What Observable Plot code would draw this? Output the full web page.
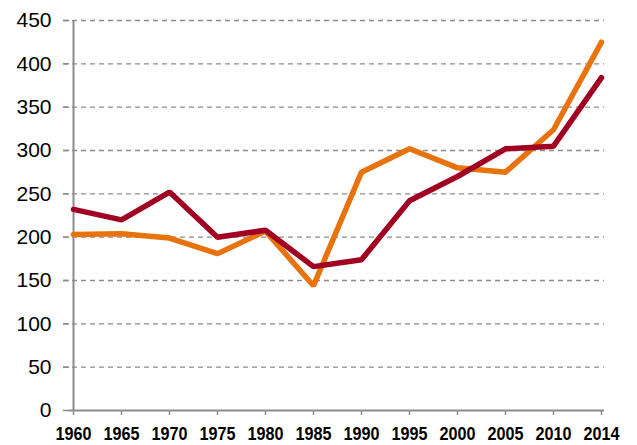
<!DOCTYPE html>
<html>
<head>
<meta charset="utf-8">
<script src="https://cdn.jsdelivr.net/npm/d3@7"></script>
<script src="https://cdn.jsdelivr.net/npm/@observablehq/plot@0.6"></script>
<style>
  html, body { margin: 0; padding: 0; background: #fff; }
  #chart svg { display: block; }
</style>
</head>
<body>
<div id="chart"></div>
<script>
const years = ["1960","1965","1970","1975","1980","1985","1990","1995","2000","2005","2010","2014"];
const orangeValues = [203, 204, 199, 181, 207, 144, 275, 302, 280, 275, 324, 425];
const redValues = [232, 220, 252, 200, 208, 166, 174, 242, 270, 302, 305, 384];
const yTicks = [0, 50, 100, 150, 200, 250, 300, 350, 400, 450];

const orange = years.map((y, i) => ({year: y, value: orangeValues[i]}));
const red = years.map((y, i) => ({year: y, value: redValues[i]}));

const chart = Plot.plot({
  width: 637,
  height: 445,
  marginLeft: 69,
  marginRight: 33,
  marginTop: 20,
  marginBottom: 35,
  style: {fontFamily: "'Liberation Sans', Arial, sans-serif", background: "#fff", color: "#000"},
  x: {type: "point", domain: years, padding: 0},
  y: {domain: [0, 450]},
  marks: [
    Plot.gridY(yTicks.filter(d => d > 0), {stroke: "#8c8c8c", strokeOpacity: 1, strokeWidth: 1.3, strokeDasharray: "5,4", insetLeft: -6}),
    Plot.axisY(yTicks, {tickSize: 6, tickPadding: 12, fontSize: 21, stroke: "#8c8c8c", strokeWidth: 1.5, label: null, fill: "#000", className: "yax"}),
    Plot.axisX({tickSize: 5, tickPadding: 11, fontSize: 19, fontWeight: "bold", stroke: "#8c8c8c", strokeWidth: 1.5, label: null, fill: "#000", className: "xax"}),
    Plot.ruleX([years[0]], {stroke: "#8c8c8c", strokeWidth: 2}),
    Plot.ruleY([0], {stroke: "#8c8c8c", strokeWidth: 2}),
    Plot.line(orange, {x: "year", y: "value", stroke: "#E8720C", strokeWidth: 5.5, strokeLinejoin: "miter", strokeLinecap: "round"}),
    Plot.line(red, {x: "year", y: "value", stroke: "#A00021", strokeWidth: 5.5, strokeLinejoin: "miter", strokeLinecap: "round"})
  ]
});
// condense the bold year labels as in the reference (narrow face)
d3.select(chart).selectAll("g.xax text")
  .attr("textLength", 36)
  .attr("lengthAdjust", "spacingAndGlyphs");
document.getElementById("chart").appendChild(chart);
</script>
</body>
</html>
